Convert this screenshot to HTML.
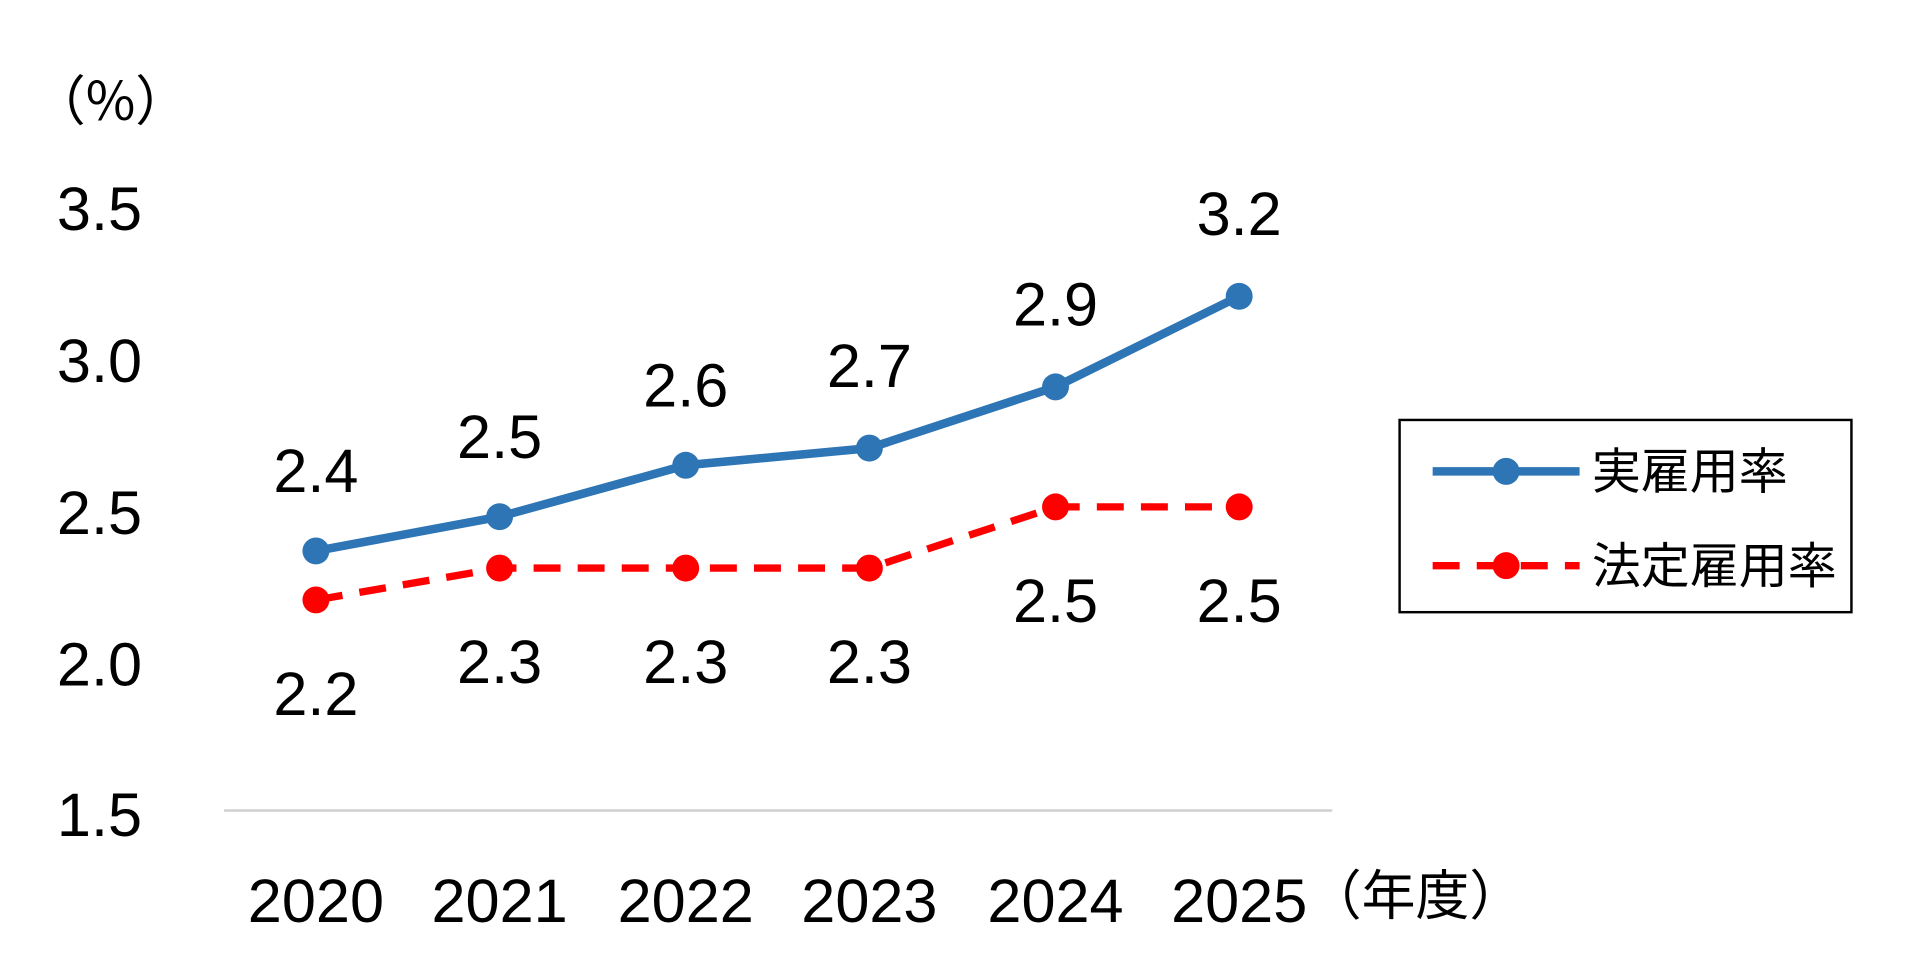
<!DOCTYPE html>
<html><head><meta charset="utf-8"><style>
html,body{margin:0;padding:0;background:#fff;}
svg{display:block;}
text{font-family:"Liberation Sans","Noto Sans CJK JP",sans-serif;fill:#000;}
.j{font-family:"Noto Sans CJK JP",sans-serif;}
</style></head><body>
<svg width="1920" height="955" viewBox="0 0 1568 780" preserveAspectRatio="none" xmlns="http://www.w3.org/2000/svg">
<rect width="1568" height="780" fill="#fff"/>
<text x="26" y="98" font-size="44" class="j">（%）</text>
<g font-size="50" text-anchor="end">
<text x="116" y="188">3.5</text>
<text x="116" y="312">3.0</text>
<text x="116" y="436">2.5</text>
<text x="116" y="560">2.0</text>
<text x="116" y="683">1.5</text>
</g>
<line x1="183" y1="662" x2="1088" y2="662" stroke="#d0d0d0" stroke-width="2"/>
<g font-size="50" text-anchor="middle">
<text x="258" y="753">2020</text>
<text x="408" y="753">2021</text>
<text x="560" y="753">2022</text>
<text x="710" y="753">2023</text>
<text x="862" y="753">2024</text>
<text x="1012" y="753">2025</text>
</g>
<text x="1068" y="747" font-size="44" class="j">（年度）</text>
<polyline points="258,490 408,464 560,464 710,464 862,414 1012,414" fill="none" stroke="#ff0000" stroke-width="6" stroke-dasharray="22,14"/>
<g fill="#ff0000">
<circle cx="258" cy="490" r="11"/><circle cx="408" cy="464" r="11"/><circle cx="560" cy="464" r="11"/><circle cx="710" cy="464" r="11"/><circle cx="862" cy="414" r="11"/><circle cx="1012" cy="414" r="11"/>
</g>
<polyline points="258,450 408,422 560,380 710,366 862,316 1012,242" fill="none" stroke="#2e75b6" stroke-width="7"/>
<g fill="#2e75b6">
<circle cx="258" cy="450" r="11"/><circle cx="408" cy="422" r="11"/><circle cx="560" cy="380" r="11"/><circle cx="710" cy="366" r="11"/><circle cx="862" cy="316" r="11"/><circle cx="1012" cy="242" r="11"/>
</g>
<g font-size="50" text-anchor="middle">
<text x="258" y="402">2.4</text>
<text x="408" y="374">2.5</text>
<text x="560" y="332">2.6</text>
<text x="710" y="316">2.7</text>
<text x="862" y="266">2.9</text>
<text x="1012" y="192">3.2</text>
<text x="258" y="584">2.2</text>
<text x="408" y="558">2.3</text>
<text x="560" y="558">2.3</text>
<text x="710" y="558">2.3</text>
<text x="862" y="508">2.5</text>
<text x="1012" y="508">2.5</text>
</g>
<rect x="1143" y="343" width="369" height="157" fill="none" stroke="#000" stroke-width="2"/>
<line x1="1170" y1="385" x2="1290" y2="385" stroke="#2e75b6" stroke-width="7"/>
<circle cx="1230" cy="385" r="11" fill="#2e75b6"/>
<text x="1300" y="399" font-size="40" class="j">実雇用率</text>
<line x1="1170" y1="462" x2="1290" y2="462" stroke="#ff0000" stroke-width="6" stroke-dasharray="22,14"/>
<circle cx="1230" cy="462" r="11" fill="#ff0000"/>
<text x="1300" y="476" font-size="40" class="j">法定雇用率</text>
</svg>
</body></html>
